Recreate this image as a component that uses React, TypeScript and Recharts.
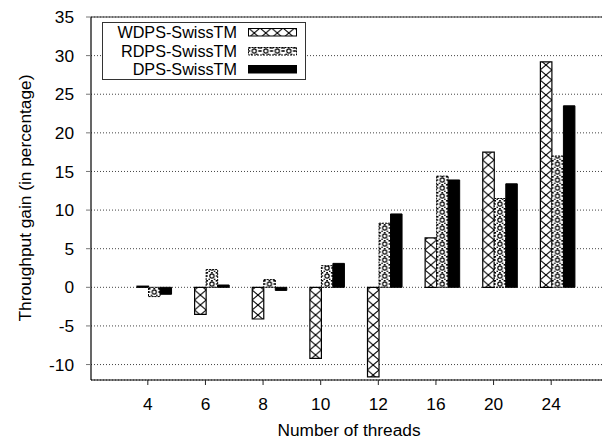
import React from "react";
import {
  BarChart,
  Bar,
  XAxis,
  YAxis,
  CartesianGrid,
  Legend,
  ReferenceLine,
} from "recharts";

const threadCounts = ["4", "6", "8", "10", "12", "16", "20", "24"];
const wdpsGain = [0.15, -3.5, -4.1, -9.2, -11.6, 6.4, 17.5, 29.2];
const rdpsGain = [-1.2, 2.3, 1.0, 2.8, 8.3, 14.4, 11.5, 17.0];
const dpsGain = [-0.9, 0.3, -0.4, 3.1, 9.5, 13.9, 13.4, 23.5];
const yTicks = [-10, -5, 0, 5, 10, 15, 20, 25, 30, 35];

const seriesNames = ["WDPS-SwissTM", "RDPS-SwissTM", "DPS-SwissTM"];

const FONT = "'Liberation Sans', Arial, Helvetica, sans-serif";

const chartData = threadCounts.map((threads, i) => ({
  threads,
  wdps: wdpsGain[i],
  rdps: rdpsGain[i],
  dps: dpsGain[i],
}));

// hatch fills, drawn like the old gnuplot eps patterns
function CrossHatch({ id, x = 0 }: { id: string; x?: number }) {
  return (
    <pattern id={id} patternUnits="userSpaceOnUse" x={x} y={0} width={11.52} height={10}>
      <rect width={11.52} height={10} fill="#fff" />
      <line x1={0} y1={0} x2={11.52} y2={10} stroke="#000" strokeWidth={1} />
      <line x1={11.52} y1={0} x2={0} y2={10} stroke="#000" strokeWidth={1} />
    </pattern>
  );
}

function RingDots({ id, x = 0 }: { id: string; x?: number }) {
  return (
    <pattern id={id} patternUnits="userSpaceOnUse" x={x} y={0} width={11.52} height={8}>
      <rect width={11.52} height={8} fill="#fff" />
      <circle cx={5.76} cy={4} r={2.1} fill="none" stroke="#000" strokeWidth={1.2} />
      <rect x={0} y={0} width={2} height={1.6} fill="#000" />
      <rect x={9.5} y={0} width={2} height={1.6} fill="#000" />
      <rect x={4.9} y={0} width={1.8} height={1.2} fill="#000" />
      <rect x={0} y={3.2} width={1.6} height={1.6} fill="#000" />
      <rect x={9.9} y={3.2} width={1.6} height={1.6} fill="#000" />
      <rect x={2.4} y={6.6} width={1.4} height={1.4} fill="#000" />
      <rect x={7.7} y={6.6} width={1.4} height={1.4} fill="#000" />
    </pattern>
  );
}

function ThreadTick(props: any) {
  const { x, y, payload } = props;
  const tx = x - 6;
  return (
    <g>
      <line x1={tx} y1={y - 5} x2={tx} y2={y} stroke="#222" strokeWidth={1} />
      <text x={tx} y={y + 24.5} textAnchor="middle" fontFamily={FONT} fontSize={17.3} fill="#000">
        {payload.value}
      </text>
    </g>
  );
}

function KeySwatch({ index }: { index: number }) {
  const pid = `key-fill-${index}`;
  const fill = index < 2 ? `url(#${pid})` : "#000";
  return (
    <svg width={50} height={9} style={{ display: "block" }}>
      <defs>
        {index === 0 && <CrossHatch id={pid} x={0.5} />}
        {index === 1 && <RingDots id={pid} x={0.5} />}
      </defs>
      <rect
        x={0.5}
        y={0.5}
        width={48}
        height={7.5}
        fill={fill}
        stroke="#000"
        strokeWidth={1}
        strokeDasharray={index === 1 ? "2 1" : undefined}
      />
    </svg>
  );
}

function KeyBox() {
  return (
    <div
      style={{
        width: 202,
        height: 56,
        border: "1px solid #333",
        background: "#fff",
        fontFamily: FONT,
        fontSize: 16.2,
        color: "#000",
      }}
    >
      {seriesNames.map((name, i) => (
        <div key={name} style={{ display: "flex", alignItems: "center", height: 18.7 }}>
          <span
            style={{
              display: "block",
              width: 134,
              textAlign: "right",
              lineHeight: "18.7px",
              whiteSpace: "nowrap",
            }}
          >
            {name}
          </span>
          <span style={{ marginLeft: 11 }}>
            <KeySwatch index={i} />
          </span>
        </div>
      ))}
    </div>
  );
}

export default function App() {
  return (
    <div style={{ position: "absolute", left: 0, top: 0, width: 602, height: 442, background: "#fff" }}>
      <BarChart
        width={602}
        height={442}
        data={chartData}
        margin={{ top: 17, right: 0, bottom: 0, left: 0 }}
        barGap={0}
        barSize={11.52}
      >
        <defs>
          <CrossHatch id="wdps-fill" x={137} />
          <RingDots id="rdps-fill" x={148.5} />
        </defs>
        <CartesianGrid vertical={false} stroke="#444" strokeDasharray="1 2" />
        <XAxis
          dataKey="threads"
          type="category"
          interval={0}
          height={62}
          padding={{ left: 34, right: 16 }}
          axisLine={{ stroke: "#000", strokeWidth: 1.2 }}
          tickLine={false}
          tickSize={5}
          tickMargin={0}
          tick={<ThreadTick />}
          label={{
            content: () => (
              <text x={349} y={436} textAnchor="middle" fontFamily={FONT} fontSize={17.3} fill="#000">
                Number of threads
              </text>
            ),
          }}
        />
        <YAxis
          type="number"
          domain={[-12, 35]}
          ticks={yTicks}
          interval={0}
          allowDataOverflow
          width={91}
          tickSize={5}
          tickMargin={12}
          axisLine={{ stroke: "#000", strokeWidth: 1.2 }}
          tickLine={{ stroke: "#777" }}
          tick={{ fontFamily: FONT, fontSize: 17.3, fill: "#000" }}
          label={{
            content: () => (
              <text
                x={25}
                y={198}
                transform="rotate(-90 25 198)"
                textAnchor="middle"
                dominantBaseline="central"
                fontFamily={FONT}
                fontSize={17.3}
                fill="#000"
              >
                Throughput gain (in percentage)
              </text>
            ),
          }}
        />
        <ReferenceLine y={35} stroke="#333" strokeWidth={1.2} />
        <Legend
          layout="vertical"
          align="center"
          verticalAlign="middle"
          wrapperStyle={{ left: 102, top: 22, width: 204 }}
          content={() => <KeyBox />}
        />
        <Bar
          dataKey="wdps"
          name={seriesNames[0]}
          fill="url(#wdps-fill)"
          stroke="#000"
          strokeWidth={1.2}
          isAnimationActive={false}
        />
        <Bar
          dataKey="rdps"
          name={seriesNames[1]}
          fill="url(#rdps-fill)"
          stroke="#000"
          strokeWidth={1}
          strokeDasharray="2 1"
          isAnimationActive={false}
        />
        <Bar
          dataKey="dps"
          name={seriesNames[2]}
          fill="#000"
          stroke="#000"
          strokeWidth={1}
          isAnimationActive={false}
        />
      </BarChart>
    </div>
  );
}
